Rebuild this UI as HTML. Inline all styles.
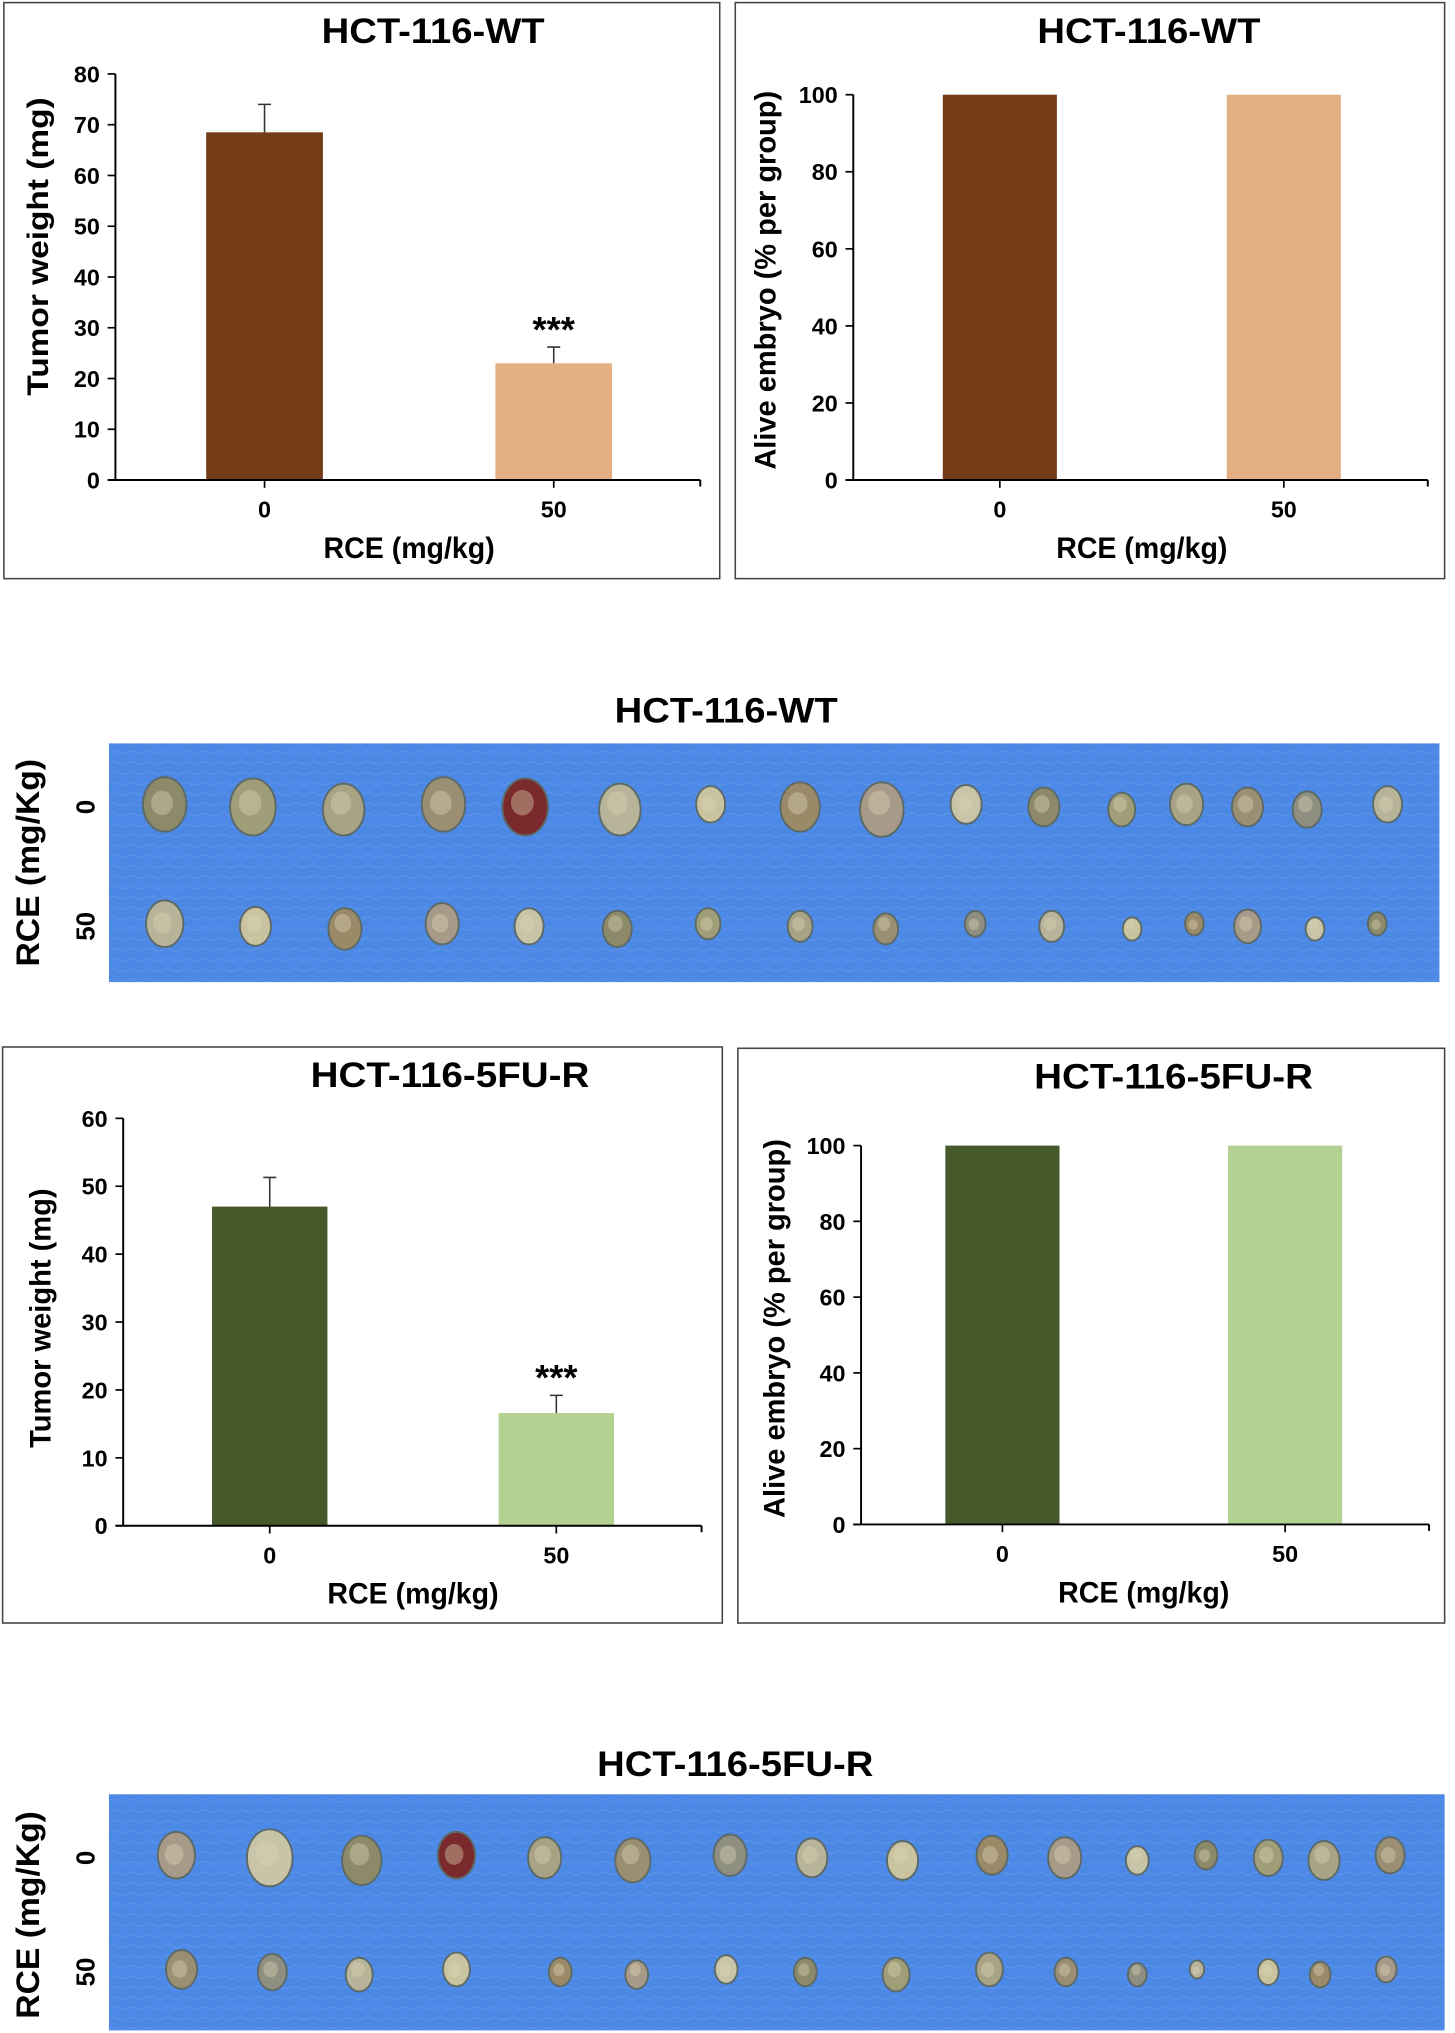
<!DOCTYPE html>
<html><head><meta charset="utf-8"><style>
html,body{margin:0;padding:0;background:#fff;}
svg{display:block;font-family:"Liberation Sans",Arial,sans-serif;font-weight:bold;}
</style></head><body>
<svg id="fig" width="1455" height="2033" viewBox="0 0 1122 1567" preserveAspectRatio="none">
<defs>
<pattern id="tex" width="14" height="8" patternUnits="userSpaceOnUse"><path d="M0 4 Q3.5 2 7 4 T14 4" stroke="#6f9ee8" stroke-width="0.8" fill="none" opacity="0.5"/></pattern>
</defs>
</svg>
<script>
// ---- chart data ----
const categories = ["0", "50"];
const wtWeight = [68.5, 23];
const wtWeightErr = [5.5, 3.2];
const wtAlive = [100, 100];
const fuWeight = [47, 16.6];
const fuWeightErr = [4.3, 2.6];
const fuAlive = [100, 100];
const wtWeightTicks = [0,10,20,30,40,50,60,70,80];
const aliveTicks = [0,20,40,60,80,100];
const fuWeightTicks = [0,10,20,30,40,50,60];
const sigLabels = ["", "***"];

const NS = "http://www.w3.org/2000/svg";
const svg = document.getElementById("fig");
function mk(tag, attrs, parent){
  const e = document.createElementNS(NS, tag);
  for (const k in attrs) e.setAttribute(k, attrs[k]);
  (parent||svg).appendChild(e);
  return e;
}
function txt(s, attrs, parent){ const e = mk("text", attrs, parent); e.textContent = s; return e; }
function fit(attrs, len){ attrs.textLength = len; attrs.lengthAdjust = "spacingAndGlyphs"; return attrs; }

function chart(cfg){
  const g = mk("g", {});
  
  
  const fr = mk("rect", {x:cfg.box[0], y:cfg.box[1], width:cfg.box[2]-cfg.box[0], height:cfg.box[3]-cfg.box[1], fill:"#fff", stroke:"#444", "stroke-width":1.2}, g);
  
  
  const t = txt(cfg.title, fit({x:cfg.titleX, y:cfg.box[1]+31, "font-size":27, "text-anchor":"middle", fill:"#000"}, cfg.titleLen), g);
  
  
  const ax = cfg.axisX, y0 = cfg.y0, yT = cfg.yTop, max = cfg.ticks[cfg.ticks.length-1];
  const yS = v => y0 - (v/max)*(y0-yT);
  const xS = i => cfg.catX[i];
  cfg.values.forEach((v,i)=>{
    const b = mk("rect", {x:xS(i)-cfg.bw/2, y:yS(v), width:cfg.bw, height:y0-yS(v), fill:cfg.colors[i]}, g);
    
    
    if (cfg.err){
      const top = yS(v + cfg.err[i]);
      const e = mk("path", {d:`M${xS(i)} ${yS(v)} V${top} M${xS(i)-5} ${top} H${xS(i)+5}`, stroke:"#333", "stroke-width":1.2, fill:"none"}, g);
      
      
      if (sigLabels[i]){
        const s = txt(sigLabels[i], {x:xS(i), y:top-4, "font-size":28, "text-anchor":"middle"}, g);
        
        
      }
    }
  });
  const ya = mk("line", {x1:ax, y1:yT, x2:ax, y2:y0, stroke:"#000", "stroke-width":1.5}, g);
  
  
  const xa = mk("line", {x1:ax-6, y1:y0, x2:cfg.xEnd, y2:y0, stroke:"#000", "stroke-width":1.5}, g);
  
  
  mk("line", {x1:cfg.xEnd, y1:y0, x2:cfg.xEnd, y2:y0+5, stroke:"#000", "stroke-width":1.5}, g);
  cfg.ticks.forEach(v=>{
    mk("line", {x1:ax-6, y1:yS(v), x2:ax, y2:yS(v), stroke:"#000", "stroke-width":1.3}, g);
    const l = txt(String(v), {x:ax-12, y:yS(v)+6.5, "font-size":18, "text-anchor":"end"}, g);
    
    
  });
  categories.forEach((c,i)=>{
    mk("line", {x1:xS(i), y1:y0, x2:xS(i), y2:y0+6, stroke:"#000", "stroke-width":1.3}, g);
    const l = txt(c, {x:xS(i), y:y0+29, "font-size":18, "text-anchor":"middle"}, g);
    
    
  });
  const xt = txt("RCE (mg/kg)", fit({x:(cfg.catX[0]+cfg.catX[1])/2 + 0, y:y0+60, "font-size":23, "text-anchor":"middle"}, 132), g);
  
  
  const ytX = cfg.ytX, ytY = cfg.ytY;
  const yt = txt(cfg.ytitle, fit({x:ytX, y:ytY, "font-size":23, "text-anchor":"middle", transform:`rotate(-90 ${ytX} ${ytY})`}, cfg.ytLen), g);
  
  
}

chart({name:"wt-tumor-weight-chart", box:[3,2,555,446], title:"HCT-116-WT", titleX:334, titleLen:172, axisX:89, y0:370, yTop:57, xEnd:540,
  catX:[204,427], bw:90, values:wtWeight, err:wtWeightErr, ticks:wtWeightTicks, colors:["#743c17","#e4b083"], ytitle:"Tumor weight (mg)", ytX:37, ytY:190, ytLen:230});
chart({name:"wt-alive-embryo-chart", box:[567,2,1114,446], title:"HCT-116-WT", titleX:886, titleLen:172, axisX:658, y0:370, yTop:73, xEnd:1101,
  catX:[771,990], bw:88, values:wtAlive, err:null, ticks:aliveTicks, colors:["#743c17","#e4b083"], ytitle:"Alive embryo (% per group)", ytX:598, ytY:216, ytLen:292});
chart({name:"fu-tumor-weight-chart", box:[2,807,557,1251], title:"HCT-116-5FU-R", titleX:347, titleLen:215, axisX:95, y0:1176, yTop:862, xEnd:541,
  catX:[208,429], bw:89, values:fuWeight, err:fuWeightErr, ticks:fuWeightTicks, colors:["#45592a","#b3d191"], ytitle:"Tumor weight (mg)", ytX:39, ytY:1016, ytLen:200});
chart({name:"fu-alive-embryo-chart", box:[569,808,1114,1251], title:"HCT-116-5FU-R", titleX:905, titleLen:215, axisX:664, y0:1175, yTop:883, xEnd:1102,
  catX:[773,991], bw:88, values:fuAlive, err:null, ticks:aliveTicks, colors:["#45592a","#b3d191"], ytitle:"Alive embryo (% per group)", ytX:605, ytY:1024, ytLen:292});

// ---- tumor photos (decorative) ----
const tumorCols = ["#8d8a6a","#9a8a68","#8e8f80","#a09e78","#a89a88","#b8b49a","#a9a385","#c8c4a8","#c9c3a0","#9a8f72"];
function photo(cfg){
  const g = mk("g", {});
  
  
  const t = txt(cfg.title, fit({x:cfg.titleX, y:cfg.titleY, "font-size":27, "text-anchor":"middle"}, cfg.titleLen), g);
  
  
  const r = mk("rect", {x:cfg.rect[0], y:cfg.rect[1], width:cfg.rect[2]-cfg.rect[0], height:cfg.rect[3]-cfg.rect[1], fill:"#4c89e6"}, g);
  
  
  mk("rect", {x:cfg.rect[0], y:cfg.rect[1], width:cfg.rect[2]-cfg.rect[0], height:cfg.rect[3]-cfg.rect[1], fill:"url(#tex)"}, g);
  cfg.rows.forEach((row,ri)=>{
    row.xs.forEach((x,i)=>{
      const rr = row.r[i];
      const col = (cfg.red && cfg.red[ri] === i) ? "#7a2a2c" : tumorCols[(i*3+ri*5+cfg.seed)%tumorCols.length];
      const e = mk("ellipse", {cx:x, cy:row.y + (i%3-1)*2, rx:rr*0.8, ry:rr, fill:col, stroke:"#5c6a6a", "stroke-width":1.5}, g);
      
      
      mk("ellipse", {cx:x-rr*0.1, cy:row.y-rr*0.15, rx:rr*0.4, ry:rr*0.45, fill:"#ddd5b5", opacity:0.4}, g);
    });
  });
  const yl = txt("RCE (mg/Kg)", fit({x:30, y:cfg.labY, "font-size":25, "text-anchor":"middle", transform:`rotate(-90 30 ${cfg.labY})`}, 160), g);
  
  
  cfg.rowLabels.forEach((s,i)=>{
    const y = cfg.rows[i].y;
    const l = txt(s, {x:66, y:y, "font-size":20, "text-anchor":"middle", transform:`rotate(-90 ${66} ${y}) translate(0 7)`}, g);
    
    
  });
}
photo({name:"wt-tumor-photo-panel", seed:0, red:[4,-1], title:"HCT-116-WT", titleX:560, titleY:557, titleLen:172, rect:[84,573,1110,757], labY:665, rowLabels:["0","50"],
  rows:[{y:622, xs:[127,195,265,342,405,478,548,617,680,745,805,865,915,962,1008,1070], r:[21,22,20,21,22,20,14,19,21,15,15,13,16,15,14,14]},
        {y:714, xs:[127,197,266,341,408,476,546,617,683,752,811,873,921,962,1014,1062], r:[18,15,16,16,14,14,12,12,12,10,12,9,9,13,9,9]}]});
photo({name:"fu-tumor-photo-panel", seed:4, red:[3,-1], title:"HCT-116-5FU-R", titleX:567, titleY:1369, titleLen:213, rect:[84,1383,1114,1565], labY:1476, rowLabels:["0","50"],
  rows:[{y:1432, xs:[136,208,279,352,420,488,563,626,696,765,821,877,930,978,1021,1072], r:[18,22,19,18,16,17,16,15,15,15,16,11,11,14,15,14]},
        {y:1520, xs:[140,210,277,352,432,491,560,621,691,763,822,877,923,978,1018,1069], r:[15,14,13,13,11,11,11,11,13,13,11,9,7,10,10,10]}]});
</script>
</body></html>
